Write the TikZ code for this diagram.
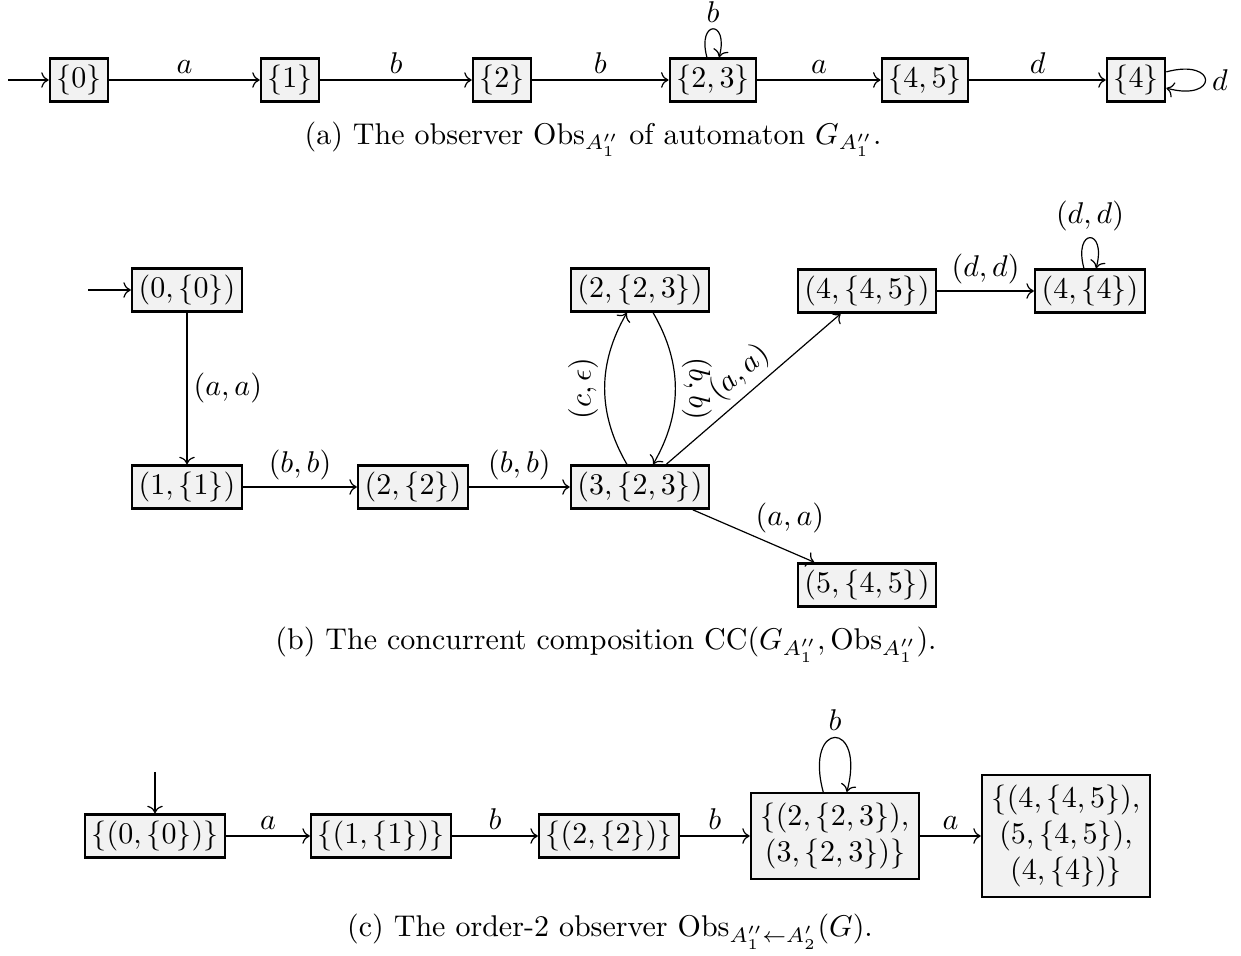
\documentclass[tikz,border=0pt]{standalone}
\usetikzlibrary{arrows.meta}
\begin{document}
\begin{tikzpicture}[x=0.3333pt,y=-0.3333pt,
  st/.style={draw,thick,fill=black!5,inner sep=2.2pt},
  stm/.style={st,align=center,inner sep=3.3pt},
  lbl/.style={inner sep=2pt},
  tr/.style={->,thin},
  capt/.style={anchor=base,inner sep=0pt}]
\useasboundingbox (0,0) rectangle (1241,956);
% ---------- (a) ----------
\node[st] (a0) at (79,80) {$\{0\}$};
\node[st] (a1) at (290,80) {$\{1\}$};
\node[st] (a2) at (502,80) {$\{2\}$};
\node[st] (a3) at (713,80) {$\{2,3\}$};
\node[st] (a4) at (925,80) {$\{4,5\}$};
\node[st] (a5) at (1136,80) {$\{4\}$};
\coordinate (ai) at (8,80);
\draw[tr] (ai) -- (a0);
\draw[tr] (a0) -- node[lbl,above]{$a$} (a1);
\draw[tr] (a1) -- node[lbl,above]{$b$} (a2);
\draw[tr] (a2) -- node[lbl,above]{$b$} (a3);
\draw[tr] (a3) -- node[lbl,above]{$a$} (a4);
\draw[tr] (a4) -- node[lbl,above]{$d$} (a5);
\draw[tr] (a3) to[out=105,in=75,distance=13pt] node[lbl,above]{$b$} (a3);
\draw[tr] (a5) to[out=15,in=-15,distance=18pt] node[lbl,right]{$d$} (a5);
\node[capt] (ca) at (593,144.5) {(a) The observer $\mathrm{Obs}_{A_1''}$ of automaton $G_{A_1''}$.};
% ---------- (b) ----------
\node[st] (b0) at (187,290) {$(0,\{0\})$};
\node[st] (b1) at (187,487) {$(1,\{1\})$};
\node[st] (b2) at (413,487) {$(2,\{2\})$};
\node[st] (b3) at (640,487) {$(3,\{2,3\})$};
\node[st] (b4) at (640,290) {$(2,\{2,3\})$};
\node[st] (b5) at (867,291) {$(4,\{4,5\})$};
\node[st] (b6) at (1090,291) {$(4,\{4\})$};
\node[st] (b7) at (867,585) {$(5,\{4,5\})$};
\coordinate (bi) at (88,290);
\draw[tr] (bi) -- (b0);
\draw[tr] (b0) -- node[lbl,right]{$(a,a)$} (b1);
\draw[tr] (b1) -- node[lbl,above]{$(b,b)$} (b2);
\draw[tr] (b2) -- node[lbl,above]{$(b,b)$} (b3);
\draw[tr] (b3) to[bend left=30] node[lbl,above,sloped]{$(c,\epsilon)$} (b4);
\draw[tr] (b4) to[bend left=30] node[lbl,above,sloped,allow upside down]{$(b,b)$} (b3);
\draw[tr] (b3) -- node[lbl,above,sloped]{$(a,a)$} (b5);
\draw[tr] (b3) -- node[lbl,above=4pt,pos=0.8]{$(a,a)$} (b7);
\draw[tr] (b5) -- node[lbl,above]{$(d,d)$} (b6);
\draw[tr] (b6) to[out=105,in=75,distance=14pt] node[lbl,above]{$(d,d)$} (b6);
\node[capt] (cb) at (606,650) {(b) The concurrent composition $\mathrm{CC}(G_{A_1''},\mathrm{Obs}_{A_1''})$.};
% ---------- (c) ----------
\node[st] (c0) at (155,836) {$\{(0,\{0\})\}$};
\node[st] (c1) at (381,836) {$\{(1,\{1\})\}$};
\node[st] (c2) at (609,836) {$\{(2,\{2\})\}$};
\node[stm] (c3) at (835,836) {$\{(2,\{2,3\}),$\\$(3,\{2,3\})\}$};
\node[stm] (c4) at (1066,836) {$\{(4,\{4,5\}),$\\$(5,\{4,5\}),$\\$(4,\{4\})\}$};
\coordinate (ci) at (155,772);
\draw[tr] (ci) -- (c0);
\draw[tr] (c0) -- node[lbl,above]{$a$} (c1);
\draw[tr] (c1) -- node[lbl,above]{$b$} (c2);
\draw[tr] (c2) -- node[lbl,above]{$b$} (c3);
\draw[tr] (c3) -- node[lbl,above]{$a$} (c4);
\draw[tr] (c3) to[out=105,in=75,distance=25pt] node[lbl,above]{$b$} (c3);
\node[capt] (cc) at (610,937) {(c) The order-2 observer $\mathrm{Obs}_{A_1''\leftarrow A_2'}(G)$.};
\end{tikzpicture}
\end{document}
